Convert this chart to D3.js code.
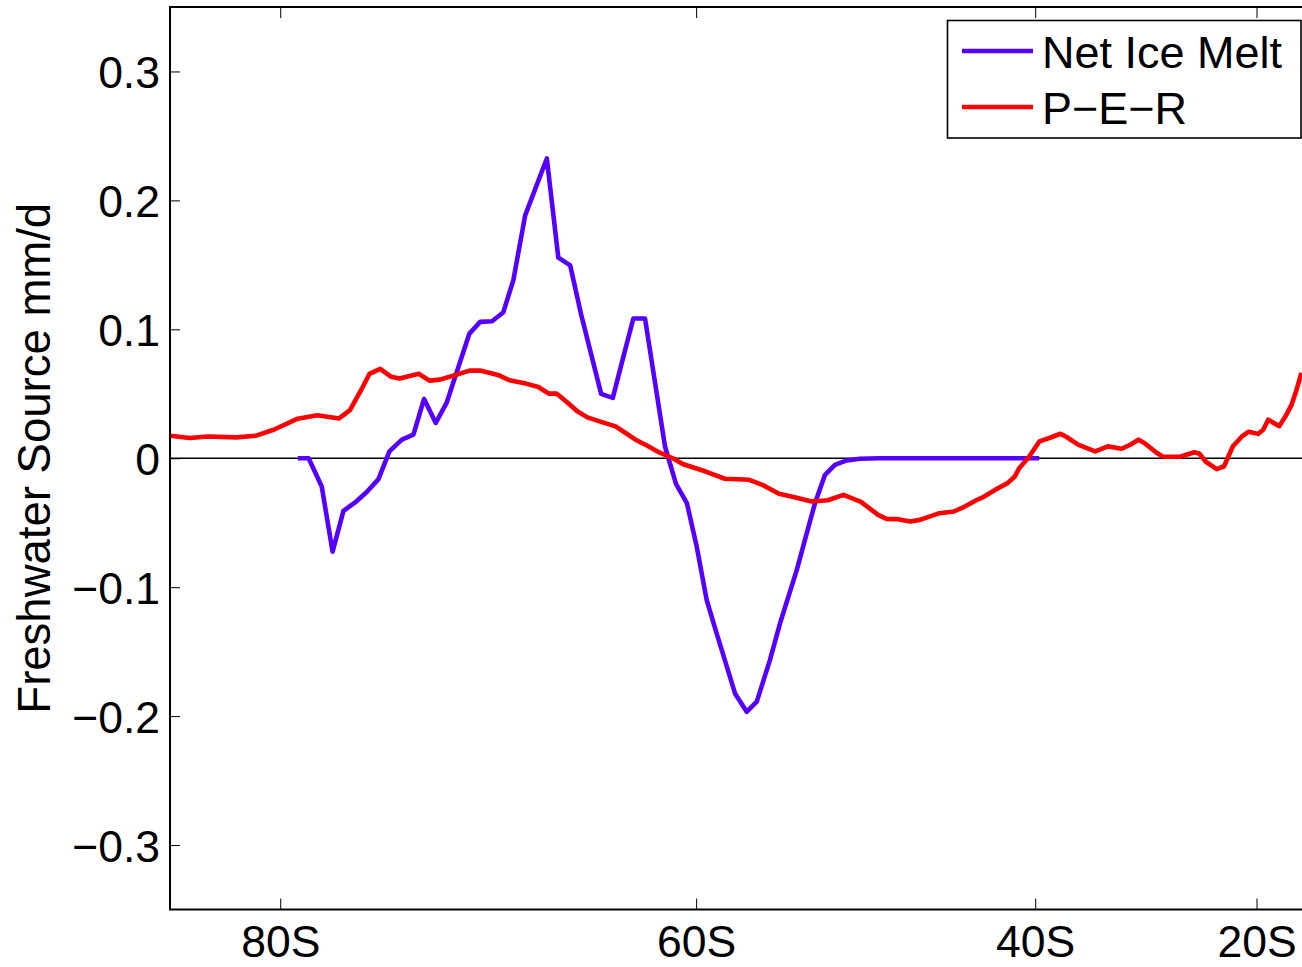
<!DOCTYPE html>
<html>
<head>
<meta charset="utf-8">
<script src="https://cdn.jsdelivr.net/npm/d3@7"></script>
<style>
  html, body { margin: 0; padding: 0; background: #fff; overflow: hidden; }
  svg { display: block; }
  text { font-family: "Liberation Sans", Arial, Helvetica, sans-serif; fill: #000; }
</style>
</head>
<body>
<svg id="chart" width="1302" height="967"></svg>
<script>
// Zonal-mean freshwater sources (mm/d) versus latitude (degrees, negative = south)

const iceMeltLat = [-79.2, -78.7, -78.1, -77.6, -77.1, -76.56, -76.0, -75.48, -74.97, -74.39,
  -73.85, -73.35, -72.8, -72.28, -71.21, -70.7, -70.13, -69.59, -69.11, -68.54,
  -67.49, -66.93, -66.35, -65.81, -64.82, -64.24, -63.79, -63.21, -62.62, -61.6,
  -61.04, -60.48, -59.97, -59.45, -58.93, -57.96, -57.34, -56.8, -56.09, -55.54,
  -54.62, -54.07, -53.61, -53.05, -52.49, -51.82, -51.06, -49.89, -39.72];
const iceMelt = [0, 0, -0.0219, -0.0724, -0.0408, -0.0343, -0.0258, -0.0162, 0.0053, 0.0144,
  0.0183, 0.046, 0.0274, 0.0434, 0.0967, 0.1058, 0.1063, 0.1133, 0.1382, 0.1884,
  0.2325, 0.1556, 0.1496, 0.1115, 0.0499, 0.0468, 0.074, 0.1084, 0.1084, 0.0089,
  -0.0198, -0.0348, -0.0685, -0.110, -0.1358, -0.1824, -0.1967, -0.1888, -0.1566, -0.128,
  -0.0866, -0.0581, -0.0348, -0.0128, -0.0051, -0.0017, -0.0004, 0, 0];

const perLat = [-85.0, -84.1, -83.3, -82.0, -81.1, -80.3, -79.2, -78.3, -77.3, -76.8,
  -76.3, -75.9, -75.4, -74.9, -74.5, -73.6, -73.1, -72.6, -71.8, -71.2,
  -70.7, -69.8, -69.3, -68.5, -67.9, -67.4, -67.0, -66.5, -66.0, -65.5,
  -64.9, -64.1, -63.6, -63.1, -62.5, -61.9, -61.2, -60.7, -59.5, -58.5,
  -57.2, -56.5, -55.6, -54.8, -53.8, -52.9, -52.0, -51.0, -50.0, -49.5,
  -48.9, -48.1, -47.5, -46.3, -45.4, -44.7, -43.9, -43.5, -42.6, -41.9,
  -41.4, -41.1, -40.5, -40.1, -39.7, -39.0, -38.2, -37.75, -36.9, -35.6,
  -34.6, -33.5, -32.8, -32.1, -31.6, -30.5, -30.0, -28.4, -27.0, -26.5,
  -25.85, -24.7, -23.9, -22.9, -21.9, -21.0, -19.8, -19.1, -18.4, -16.75,
  -15.6, -14.7, -13.8, -12.85];
const per = [0.0175, 0.0157, 0.0169, 0.0162, 0.0175, 0.0221, 0.0307, 0.0333, 0.0309, 0.0373,
  0.0524, 0.0654, 0.0693, 0.0633, 0.0618, 0.0655, 0.0602, 0.061, 0.0649, 0.068,
  0.068, 0.0643, 0.0605, 0.0579, 0.0553, 0.0501, 0.0501, 0.0434, 0.0364, 0.0317,
  0.0286, 0.0247, 0.0196, 0.0144, 0.0097, 0.0045, 0, -0.0045, -0.0103, -0.0159,
  -0.0167, -0.0206, -0.0276, -0.0301, -0.0336, -0.0326, -0.0284, -0.0338, -0.0439, -0.047,
  -0.0472, -0.0491, -0.0478, -0.0426, -0.0413, -0.0375, -0.0322, -0.0301, -0.0237, -0.0193,
  -0.0141, -0.0076, 0, 0.0066, 0.0131, 0.0157, 0.019, 0.0165, 0.0105, 0.0053,
  0.0092, 0.0074, 0.0105, 0.0144, 0.0118, 0.004, 0.0014, 0.0012, 0.0047, 0.0035,
  -0.0027, -0.0084, -0.0062, 0.0093, 0.0165, 0.0206, 0.0189, 0.0221, 0.0299, 0.0249,
  0.0338, 0.0416, 0.0532, 0.0662];

const seriesNames = ["Net Ice Melt", "P\u2212E\u2212R"];
const seriesColors = ["#5500ff", "#ff0000"];

const latDomain = [-85, -10];
const yDomain = [-0.35, 0.35];
const xTickLats = [-80, -60, -40, -20];
const xTickLabels = ["80S", "60S", "40S", "20S"];
const yTicks = [-0.3, -0.2, -0.1, 0, 0.1, 0.2, 0.3];
const yTickLabels = ["\u22120.3", "\u22120.2", "\u22120.1", "0", "0.1", "0.2", "0.3"];
const yTitle = "Freshwater Source mm/d";

// Plot frame (the right side runs past the visible canvas)
const L = 170, R = 1314, T = 7, B = 909.5;
const FS = 44.5;
const LW = 4.6;

const svg = d3.select("#chart");
const rad = d => Math.cos(d * Math.PI / 180);

// x axis is linear in cos(latitude)
const xc = d3.scaleLinear().domain(latDomain.map(rad)).range([L, R]);
const x = lat => xc(rad(lat));
const y = d3.scaleLinear().domain(yDomain).range([B, T]);

svg.append("defs").append("clipPath").attr("id", "plotClip")
  .append("rect").attr("x", L).attr("y", T).attr("width", R - L).attr("height", B - T);

const plot = svg.append("g").attr("clip-path", "url(#plotClip)");

// zero line
plot.append("line")
  .attr("x1", L).attr("x2", R).attr("y1", y(0)).attr("y2", y(0))
  .attr("stroke", "#000").attr("stroke-width", 1.3);

const line = d3.line().x(d => x(d[0])).y(d => y(d[1]));
const series = [d3.zip(iceMeltLat, iceMelt), d3.zip(perLat, per)];

series.forEach((s, i) => {
  plot.append("path").datum(s)
    .attr("d", line)
    .attr("fill", "none")
    .attr("stroke", seriesColors[i])
    .attr("stroke-width", LW)
    .attr("stroke-linejoin", "round")
    .attr("stroke-linecap", "butt");
});

// axes: bottom/top ticks point inward, labels only on bottom and left
const xTickVals = xTickLats.map(rad);
const xLabel = v => xTickLabels[xTickVals.indexOf(v)];

const gx = svg.append("g").attr("transform", `translate(0,${B})`)
  .call(d3.axisBottom(xc).tickValues(xTickVals).tickFormat(xLabel).tickSizeInner(-11).tickSizeOuter(0).tickPadding(0));
gx.select(".domain").remove();
gx.selectAll(".tick line").attr("stroke", "#000").attr("stroke-width", 1);
gx.selectAll(".tick text").attr("font-size", FS).attr("dy", null).attr("y", 47.5)
  .attr("font-family", "Liberation Sans, Arial, sans-serif");

const gxTop = svg.append("g").attr("transform", `translate(0,${T})`)
  .call(d3.axisTop(xc).tickValues(xTickVals).tickFormat("").tickSizeInner(-11).tickSizeOuter(0));
gxTop.select(".domain").remove();
gxTop.selectAll(".tick line").attr("stroke", "#000").attr("stroke-width", 1);

const yLabel = v => yTickLabels[yTicks.indexOf(v)];
const gy = svg.append("g").attr("transform", `translate(${L},0)`)
  .call(d3.axisLeft(y).tickValues(yTicks).tickFormat(yLabel).tickSizeInner(-10).tickSizeOuter(0).tickPadding(10));
gy.select(".domain").remove();
gy.selectAll(".tick line").attr("stroke", "#000").attr("stroke-width", 1);
gy.selectAll(".tick text").attr("font-size", FS).attr("dy", null).attr("x", -10).attr("y", 16.5)
  .attr("font-family", "Liberation Sans, Arial, sans-serif");

// frame
svg.append("rect").attr("x", L).attr("y", T).attr("width", R - L).attr("height", B - T)
  .attr("fill", "none").attr("stroke", "#000").attr("stroke-width", 2);

// y title
svg.append("text")
  .attr("transform", `translate(50,${(T + B) / 2}) rotate(-90)`)
  .attr("text-anchor", "middle")
  .attr("font-size", 45.5)
  .text(yTitle);

// legend
const lg = svg.append("g");
lg.append("rect").attr("x", 947.5).attr("y", 20.5).attr("width", 353.5).attr("height", 117.5)
  .attr("fill", "#fff").attr("stroke", "#000").attr("stroke-width", 1.6);
const legendRows = [51, 107];
seriesNames.forEach((name, i) => {
  lg.append("line").attr("x1", 962).attr("x2", 1033)
    .attr("y1", legendRows[i]).attr("y2", legendRows[i])
    .attr("stroke", seriesColors[i]).attr("stroke-width", LW);
  lg.append("text").attr("x", 1042).attr("y", legendRows[i] + 16.5)
    .attr("font-size", 45).text(name);
});
</script>
</body>
</html>
